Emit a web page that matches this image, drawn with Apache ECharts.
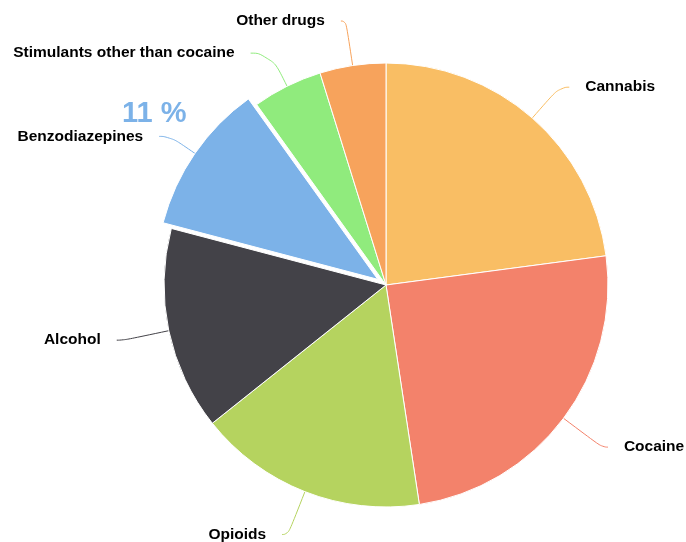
<!DOCTYPE html>
<html>
<head>
<meta charset="utf-8">
<script src="https://cdn.jsdelivr.net/npm/echarts@6/dist/echarts.min.js"></script>
<style>
  html, body { margin: 0; padding: 0; background: #fff; }
  #main { width: 686px; height: 542px; }
</style>
</head>
<body>
<div id="main"></div>
<script>
const categories = ['Cannabis', 'Cocaine', 'Opioids', 'Alcohol', 'Benzodiazepines', 'Stimulants other than cocaine', 'Other drugs']
const values = [22.9, 24.7, 16.7, 14.8, 11, 5.1, 4.8]
const colors = ['#f9be64', '#f3826b', '#b5d35f', '#434248', '#7cb2e8', '#90eb7d', '#f7a35c']
const selectedName = 'Benzodiazepines'

// leader line lengths per slice (first / second segment)
const lineLen = [41, 48, 46, 46, 30, 37, 45]
const lineLen2 = [10, 6, 6, 7, 11, 20, 5]

const total = values.reduce((a, b) => a + b, 0)
const selIdx = categories.indexOf(selectedName)
const selPct = Math.round(values[selIdx] / total * 100) + ' %'

const chart = echarts.init(document.getElementById('main'))
chart.setOption({
  animation: false,
  graphic: [
    {
      type: 'text',
      left: 122,
      top: 99,
      style: {
        text: selPct,
        fill: colors[selIdx],
        font: 'bold 29px "Liberation Sans", Arial, sans-serif'
      }
    }
  ],
  series: [
    {
      type: 'pie',
      center: [386, 285],
      radius: [0, 222],
      startAngle: 90,
      clockwise: true,
      selectedMode: 'single',
      selectedOffset: 10,
      avoidLabelOverlap: false,
      itemStyle: {
        borderColor: '#fff',
        borderWidth: 1
      },
      label: {
        show: true,
        position: 'outside',
        color: '#000',
        fontWeight: 'bold',
        fontSize: 15.5,
        fontFamily: '"Liberation Sans", Arial, sans-serif',
        padding: [4, 0, 0, 0],
        distanceToLabelLine: 16
      },
      labelLine: {
        show: true,
        smooth: 0.6,
        lineStyle: { width: 1 }
      },
      emphasis: { disabled: true },
      data: categories.map((name, i) => ({
        name: name,
        value: values[i],
        selected: name === selectedName,
        itemStyle: { color: colors[i] },
        labelLine: { length: lineLen[i], length2: lineLen2[i] }
      }))
    }
  ]
})
</script>
</body>
</html>
